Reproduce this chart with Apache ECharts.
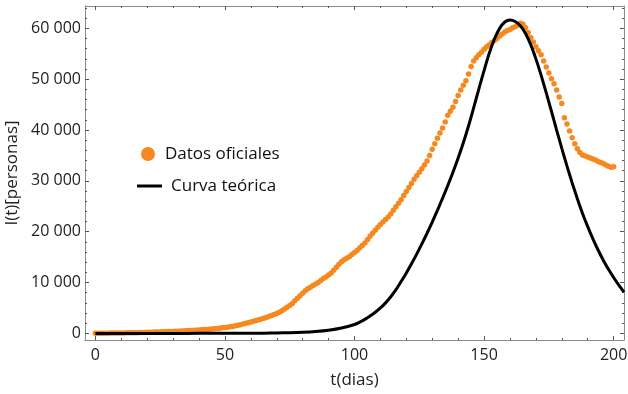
<!DOCTYPE html>
<html>
<head>
<meta charset="utf-8">
<script src="https://cdn.jsdelivr.net/npm/echarts@6/dist/echarts.min.js"></script>
<style>html,body{margin:0;padding:0;background:#fff;}#c{width:628px;height:394px;}</style>
</head>
<body>
<div id="c"></div>
<script>
// Official data: one value per day, day 0..200
const officialDays = Array.from({length: 201}, (_, i) => i);
const officialValues = [
  20,25,30,35,40,50,55,60,70,80,
  90,100,110,120,130,140,150,160,170,180,
  200,210,230,250,270,290,310,330,350,370,
  390,410,430,460,490,520,550,580,610,640,
  680,710,750,790,830,880,930,980,1030,1090,
  1150,1220,1300,1380,1480,1600,1720,1850,1980,2100,
  2250,2400,2550,2700,2850,3000,3150,3300,3500,3700,
  3900,4150,4450,4800,5150,5500,5900,6400,6900,7400,
  7900,8400,8800,9100,9400,9700,10000,10400,10800,11100,
  11500,11900,12400,13000,13600,14100,14500,14800,15100,15500,
  15900,16300,16800,17300,17800,18400,19100,19700,20300,20900,
  21400,21900,22400,22900,23500,24200,24900,25600,26300,27100,
  27900,28700,29500,30300,31000,31700,32400,33100,33900,35000,
  36200,37300,38400,39400,40400,41600,42900,43700,44500,45600,
  46800,47900,48800,49700,51000,52500,53600,54200,54800,55300,
  55900,56400,56800,57200,57600,58000,58500,58900,59300,59600,
  59800,60100,60300,60600,61000,60800,60100,59200,58200,57300,
  56400,55600,54800,53600,52400,51200,50100,49100,47900,46500,
  45200,42400,41200,39800,38500,37300,36300,35600,35100,34900,
  34700,34500,34300,34100,33800,33600,33400,33100,32900,32700,
  32800
];
// Theoretical curve
const curveDays = [0,10,20,30,40,50,60,65,70,75,80,85,90,95,100,102,104,106,108,110,112,114,116,118,120,122,124,126,128,130,132,134,136,138,140,142,144,146,148,150,152,154,156,158,160,162,164,166,168,170,172,174,176,178,180,182,184,186,188,190,192,194,196,198,200,202,204];
const curveValues = [0,0,1,2,5,12,30,50,80,130,220,370,620,1050,1750,2200,2750,3400,4150,5000,6000,7200,8600,10200,11900,13700,15600,17600,19700,21900,24200,26600,29100,31700,34500,37500,40800,44400,48100,51700,55100,57900,60000,61250,61650,61350,60500,59000,56800,54000,50800,47300,43700,40000,36400,32900,29600,26500,23600,21000,18600,16400,14400,12600,11000,9500,8100];

const xMajor = [0, 50, 100, 150, 200];
const xMinor = [10,20,30,40,60,70,80,90,110,120,130,140,160,170,180,190];
const yMajor = [0, 10000, 20000, 30000, 40000, 50000, 60000];
const yMinor = [2000,4000,6000,8000,12000,14000,16000,18000,22000,24000,26000,28000,32000,34000,36000,38000,42000,44000,46000,48000,52000,54000,56000,58000,62000,64000];

const seriesNames = ['Datos oficiales', 'Curva teórica'];
const axisTitles = ['t(dias)', 'I(t)[personas]'];

const FONT = 'Open Sans';
const frameColor = '#8c8c8c';
const X_MIN = -4, X_MAX = 204, Y_MIN = -1300, Y_MAX = 64400;

function fmt(v) {
  return String(v).replace(/\B(?=(\d{3})+(?!\d))/g, ' ');
}

function xAx(pos, values, len, labels, line) {
  return {
    type: 'value', position: pos, min: X_MIN, max: X_MAX,
    axisLine: {show: line, onZero: false, lineStyle: {color: frameColor, width: 1}},
    axisTick: {show: true, inside: true, length: len, customValues: values, lineStyle: {color: '#555', width: 1}},
    axisLabel: labels ? {show: true, customValues: values, formatter: fmt, margin: 7, color: '#222', fontFamily: FONT, fontSize: 16} : {show: false},
    splitLine: {show: false}
  };
}
function yAx(pos, values, len, labels, line) {
  return {
    type: 'value', position: pos, min: Y_MIN, max: Y_MAX,
    axisLine: {show: line, onZero: false, lineStyle: {color: frameColor, width: 1}},
    axisTick: {show: true, inside: true, length: len, customValues: values, lineStyle: {color: '#555', width: 1}},
    axisLabel: labels ? {show: true, customValues: values, formatter: fmt, margin: 4, color: '#222', fontFamily: FONT, fontSize: 16} : {show: false},
    splitLine: {show: false}
  };
}

const xAxes = [
  Object.assign(xAx('bottom', xMajor, 4, true, true), {
    name: axisTitles[0], nameLocation: 'middle', nameGap: 32,
    nameTextStyle: {fontFamily: FONT, fontSize: 17, color: '#222'}
  }),
  xAx('bottom', xMinor, 2, false, false),
  xAx('top', xMajor, 4, false, true),
  xAx('top', xMinor, 2, false, false)
];
const yAxes = [
  Object.assign(yAx('left', yMajor, 4, true, true), {
    name: axisTitles[1], nameLocation: 'middle', nameGap: 62,
    nameTextStyle: {fontFamily: FONT, fontSize: 17, color: '#222'}
  }),
  yAx('left', yMinor, 2, false, false),
  yAx('right', yMajor, 4, false, true),
  yAx('right', yMinor, 2, false, false)
];

const chart = echarts.init(document.getElementById('c'), null, {renderer: 'canvas'});
chart.setOption({
  animation: false,
  backgroundColor: '#fff',
  grid: {left: 85, right: 4, top: 6, bottom: 54, containLabel: false, outerBoundsMode: 'none'},
  xAxis: xAxes,
  yAxis: yAxes,
  legend: [
    {
      data: [{name: seriesNames[0], icon: 'circle'}],
      left: 141, top: 144, padding: 0,
      itemWidth: 24, itemHeight: 14,
      textStyle: {fontFamily: FONT, fontSize: 17, color: '#111', lineHeight: 20},
      selectedMode: false
    },
    {
      data: [{name: seriesNames[1], icon: 'rect'}],
      left: 137, top: 176, padding: 0,
      itemWidth: 25, itemHeight: 3,
      textStyle: {fontFamily: FONT, fontSize: 17, color: '#111', lineHeight: 20, padding: [0, 0, 0, 4]},
      selectedMode: false
    }
  ],
  series: [
    {
      name: seriesNames[0], type: 'scatter', xAxisIndex: 0, yAxisIndex: 0,
      symbol: 'circle', symbolSize: 5.5,
      itemStyle: {color: '#f5891f', opacity: 1},
      data: officialDays.map((d, i) => [d, officialValues[i]]),
      z: 2
    },
    {
      name: seriesNames[1], type: 'line', xAxisIndex: 0, yAxisIndex: 0,
      showSymbol: false, symbol: 'none', smooth: 0.3,
      color: '#000',
      lineStyle: {color: '#000', width: 3},
      itemStyle: {color: '#000'},
      data: curveDays.map((d, i) => [d, curveValues[i]]),
      clip: true,
      z: 3
    }
  ]
});
</script>
</body>
</html>
